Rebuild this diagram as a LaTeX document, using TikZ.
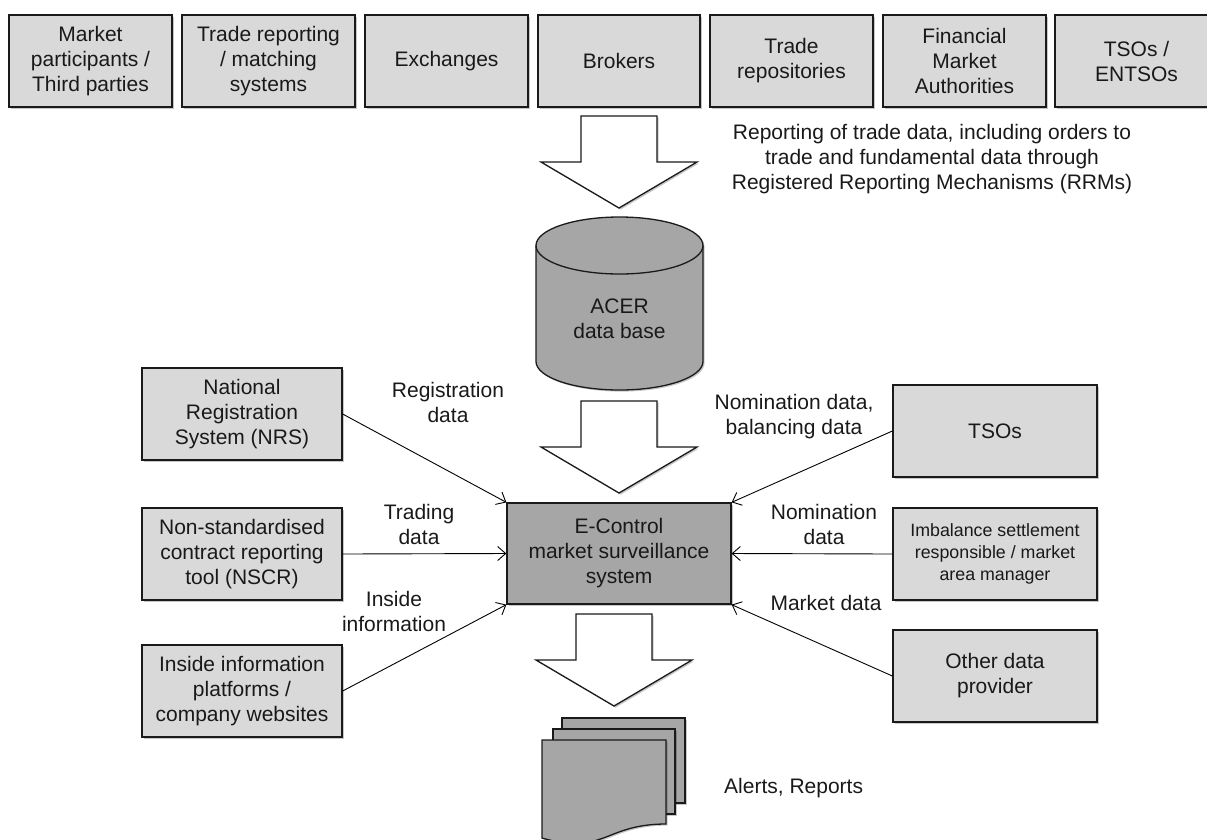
\documentclass[tikz,border=0pt]{standalone}
\usepackage{fontspec}
\setmainfont{Liberation Sans}
\usetikzlibrary{arrows.meta,shadows}
\definecolor{boxgray}{HTML}{D9D9D9}
\definecolor{darkgray}{HTML}{A6A6A6}
\definecolor{edge}{HTML}{1A1A1A}
\newcommand\DownBlock[2]{%
  \draw[bigarr] (#1-38,#2) -- (#1+38,#2) -- (#1+38,#2+46) -- (#1+78,#2+46)
    -- (#1,#2+92) -- (#1-78,#2+46) -- (#1-38,#2+46) -- cycle;}
\begin{document}
\begin{tikzpicture}[x=1pt,y=-1pt,
  every node/.style={font=\fontsize{21}{25}\selectfont, align=center, text=black!90},
  shade/.style={drop shadow={shadow xshift=1.6pt, shadow yshift=-1.6pt, opacity=0.22, fill=black}},
  pbox/.style={draw=edge, line width=1.3pt, fill=boxgray, inner sep=0pt,
    minimum height=92pt, shade},
  dbox/.style={draw=edge, line width=1.3pt, fill=darkgray, inner sep=0pt, shade},
  bigarr/.style={draw=edge, line width=1.3pt, fill=white, line join=miter, shade},
  conn/.style={draw=black, line width=0.9pt, -{Straight Barb[length=8pt,width=14pt]}},
  lbl/.style={inner sep=0pt}]
\useasboundingbox (0,0) rectangle (1207,839);
\clip (0,0) rectangle (1207,839);

% top row
\node[pbox, minimum width=163pt] (t1) at (90.5,61) {Market\\participants /\\Third parties};
\node[pbox, minimum width=173pt] (t2) at (268.5,61) {Trade reporting\\/ matching\\systems};
\node[pbox, minimum width=163pt] (t3) at (446.5,61) {Exchanges};
\node[pbox, minimum width=162pt] (t4) at (619,61) {Brokers};
\node[pbox, minimum width=163pt] (t5) at (791.5,61) {Trade\\repositories};
\node[pbox, minimum width=163pt] (t6) at (964.5,61) {Financial\\Market\\Authorities};
\node[pbox, minimum width=163pt] (t7) at (1136.5,61) {TSOs /\\ENTSOs};

% arrow 1 and label
\DownBlock{619}{116}
\node[lbl] (rep) at (932,159) {Reporting of trade data, including orders to\\trade and fundamental data through\\Registered Reporting Mechanisms (RRMs)};

% database cylinder
\filldraw[draw=edge, line width=1.3pt, fill=darkgray, shade]
  (536,245.5) -- (536,361.5) .. controls (536,377.2) and (573.4,390) .. (619.5,390)
  .. controls (665.6,390) and (703,377.2) .. (703,361.5) -- (703,245.5)
  .. controls (703,229.8) and (665.6,217) .. (619.5,217)
  .. controls (573.4,217) and (536,229.8) .. (536,245.5) -- cycle;
\draw[draw=edge, line width=1.3pt]
  (536,245.5) .. controls (536,261.2) and (573.4,274) .. (619.5,274)
  .. controls (665.6,274) and (703,261.2) .. (703,245.5);
\node[lbl] (db) at (619.5,319) {ACER\\data base};

% arrow 2
\DownBlock{619}{401}

% central system
\node[dbox, minimum width=224pt, minimum height=101pt] (ec) at (619,553.5)
  {E-Control\\market surveillance\\system};

% left sources
\node[pbox, minimum width=200pt] (nrs) at (242,414) {National\\Registration\\System (NRS)};
\node[pbox, minimum width=200pt] (nscr) at (242,554) {Non-standardised\\contract reporting\\tool (NSCR)};
\node[pbox, minimum width=200pt] (iip) at (242,691) {Inside information\\platforms /\\company websites};

% right sources
\node[pbox, minimum width=204pt] (tso) at (995,431) {TSOs};
\node[pbox, minimum width=204pt, font=\fontsize{17.8}{21.7}\selectfont] (imb) at (995,554)
  {Imbalance settlement\\responsible / market\\area manager};
\node[pbox, minimum width=204pt] (odp) at (995,676) {Other data\\provider};

% connectors
\draw[conn] (nrs.east) -- (ec.north west);
\draw[conn] (nscr.east) -- (ec.west);
\draw[conn] (iip.east) -- (ec.south west);
\draw[conn] (tso.west) -- (ec.north east);
\draw[conn] (imb.west) -- (ec.east);
\draw[conn] (odp.west) -- (ec.south east);

% connector labels
\node[lbl] (lreg) at (448,402) {Registration\\data};
\node[lbl] (ltrd) at (419,524) {Trading\\data};
\node[lbl] (linf) at (394,611) {Inside\\information};
\node[lbl] (lnb) at (794,417) {Nomination data,\\balancing data};
\node[lbl] (lnom) at (824,524) {Nomination\\data};
\node[lbl] (lmkt) at (826,603) {Market data};

% arrow 3
\DownBlock{614}{614}

% documents
\filldraw[draw=edge, line width=1.3pt, fill=darkgray, shade] (562,718) rectangle (685,803);
\filldraw[draw=edge, line width=1.3pt, fill=darkgray, shade] (553,729) rectangle (675,814);
\filldraw[draw=edge, line width=1.3pt, fill=darkgray, shade]
  (542,740) -- (666,740) -- (666,824) .. controls (604,824) and (604,856) .. (542,838) -- cycle;
\node[lbl, anchor=west] (alr) at (724,788) {Alerts, Reports};
\end{tikzpicture}
\end{document}
